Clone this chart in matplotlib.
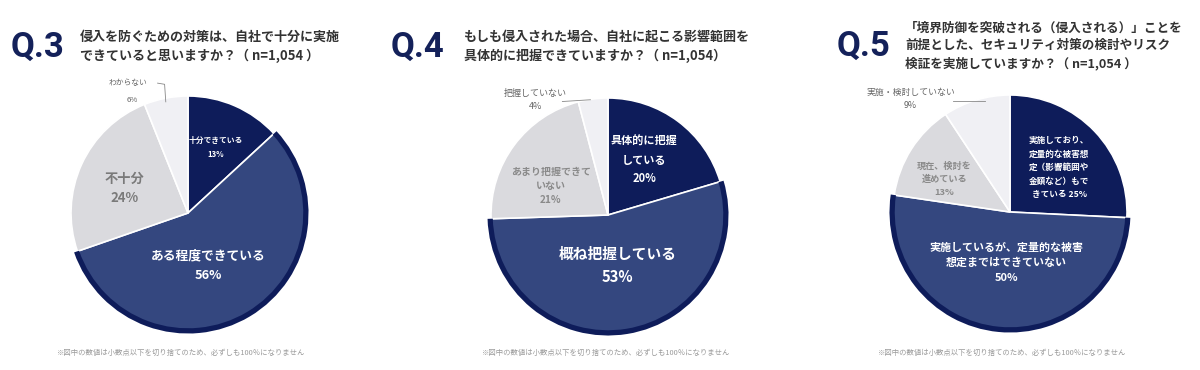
import matplotlib
matplotlib.use("Agg")
import matplotlib.pyplot as plt

plt.rcParams['font.family'] = ['Noto Sans CJK JP', 'DejaVu Sans']

# ---------------- data ----------------
q_ids = ["Q.3", "Q.4", "Q.5"]
titles = [
    "侵入を防ぐための対策は、自社で十分に実施\nできていると思いますか？（ n=1,054 ）",
    "もしも侵入された場合、自社に起こる影響範囲を\n具体的に把握できていますか？（ n=1,054）",
    "「境界防御を突破される（侵入される）」ことを\n前提とした、セキュリティ対策の検討やリスク\n検証を実施していますか？（ n=1,054 ）",
]
q3_labels = ["十分できている", "ある程度できている", "不十分", "わからない"]
q3_values = [13, 56, 24, 6]
q4_labels = ["具体的に把握\nしている", "概ね把握している", "あまり把握できて\nいない", "把握していない"]
q4_values = [20, 53, 21, 4]
q5_labels = ["実施しており、\n定量的な被害想\n定（影響範囲や\n金額など）もで\nきている", "実施しているが、定量的な被害\n想定まではできていない",
             "現在、検討を\n進めている", "実施・検討していない"]
q5_values = [25, 50, 13, 9]
footnote = "※図中の数値は小数点以下を切り捨てのため、必ずしも100％になりません"

# ---------------- style ----------------
NAVY = "#0e1c5a"
BLUE = "#34477f"
GREY = "#dadade"
PALE = "#f0f0f4"
colors = [NAVY, BLUE, GREY, PALE]
TXT = "#333333"

W, H = 1200, 370
fig = plt.figure(figsize=(W / 100, H / 100), dpi=100)
fig.patch.set_facecolor("white")

def fx(px):
    return px / W

def fy(py):
    return 1 - py / H

R = 117  # pie radius in px
LIM = 1.3

def pie_axes(cx, cy):
    half = LIM * R
    ax = fig.add_axes([fx(cx - half), (H - cy - half) / H, 2 * half / W, 2 * half / H])
    ax.set_xlim(-LIM, LIM)
    ax.set_ylim(-LIM, LIM)
    ax.set_aspect("equal")
    ax.axis("off")
    return ax

def draw_pie(ax, values):
    ax.pie(values, colors=colors, startangle=90, counterclock=False,
           radius=1.0, wedgeprops=dict(edgecolor="white", linewidth=1.2))
    ring_cols = ["none", NAVY, "none", "none"]
    ax.pie(values, colors=ring_cols, startangle=90, counterclock=False,
           radius=1.03, wedgeprops=dict(width=0.045, edgecolor="none", linewidth=0))
    ax.set_xlim(-LIM, LIM)
    ax.set_ylim(-LIM, LIM)

centers = [(188, 213), (608, 215), (1010, 212)]
qpos = [(38, 47), (418, 47), (864, 46)]
tpos = [(80, 46), (464, 46), (905, 46)]
tsize = [9.4, 9.4, 9.1]
foot_x = [57, 482, 878]

for i in range(3):
    fig.text(fx(qpos[i][0]), fy(qpos[i][1]), q_ids[i], fontsize=25, fontweight="bold",
             color="#14215a", ha="center", va="center", family=["Roboto", "DejaVu Sans"])
    fig.text(fx(tpos[i][0]), fy(tpos[i][1]), titles[i], fontsize=tsize[i], fontweight="bold",
             color=TXT, ha="left", va="center", linespacing=1.45)
    fig.text(fx(foot_x[i]), fy(353), footnote, fontsize=5.3, color="#9a9a9a",
             ha="left", va="center")

# ---- Q3 ----
ax = pie_axes(*centers[0])
draw_pie(ax, q3_values)
ax.text(0.24, 0.56, f"{q3_labels[0]}\n{q3_values[0]}%", color="white", fontsize=5.6,
        ha="center", va="center", fontweight="bold", linespacing=1.6)
ax.text(0.17, -0.45, f"{q3_labels[1]}\n{q3_values[1]}%", color="white", fontsize=9.2,
        ha="center", va="center", fontweight="bold", linespacing=1.7)
ax.text(-0.54, 0.21, f"{q3_labels[2]}\n{q3_values[2]}%", color="#7a7a7a", fontsize=9.5,
        ha="center", va="center", fontweight="bold", linespacing=1.55)
ax.text(-0.51, 1.11, q3_labels[3], color="#666666", fontsize=5.6, ha="center", va="center")
ax.text(-0.48, 0.97, f"{q3_values[3]}%", color="#666666", fontsize=5.6, ha="center", va="center")
ax.plot([-0.26, -0.2, -0.19], [1.11, 1.10, 0.95], color="#888888", lw=0.6)

# ---- Q4 ----
ax = pie_axes(*centers[1])
draw_pie(ax, q4_values)
ax.text(0.31, 0.47, f"{q4_labels[0]}\n{q4_values[0]}%", color="white", fontsize=8,
        ha="center", va="center", fontweight="bold", linespacing=1.55)
ax.text(0.08, -0.43, f"{q4_labels[1]}\n{q4_values[1]}%", color="white", fontsize=10.6,
        ha="center", va="center", fontweight="bold", linespacing=1.5)
ax.text(-0.49, 0.25, f"{q4_labels[2]}\n{q4_values[2]}%", color="#8a8a8a", fontsize=7.2,
        ha="center", va="center", fontweight="bold", linespacing=1.5)
ax.text(-0.62, 0.98, f"{q4_labels[3]}\n{q4_values[3]}%", color="#666666", fontsize=6.5,
        ha="center", va="center", linespacing=1.6)
ax.plot([-0.39, -0.15], [0.97, 0.985], color="#888888", lw=0.6)

# ---- Q5 ----
ax = pie_axes(*centers[2])
draw_pie(ax, q5_values)
ax.text(0.42, 0.38, f"{q5_labels[0]} {q5_values[0]}%", color="white", fontsize=6.2,
        ha="center", va="center", fontweight="bold", linespacing=1.65)
ax.text(-0.03, -0.43, f"{q5_labels[1]}\n{q5_values[1]}%", color="white", fontsize=7.9,
        ha="center", va="center", fontweight="bold", linespacing=1.6)
ax.text(-0.56, 0.28, f"{q5_labels[2]}\n{q5_values[2]}%", color="#8a8a8a", fontsize=6.6,
        ha="center", va="center", fontweight="bold", linespacing=1.55)
ax.text(-0.85, 0.97, f"{q5_labels[3]}\n{q5_values[3]}%", color="#666666", fontsize=6.4,
        ha="center", va="center", linespacing=1.6)
ax.plot([-0.49, -0.21], [0.95, 0.95], color="#888888", lw=0.6)

fig.savefig("out.png", dpi=100, facecolor="white")
